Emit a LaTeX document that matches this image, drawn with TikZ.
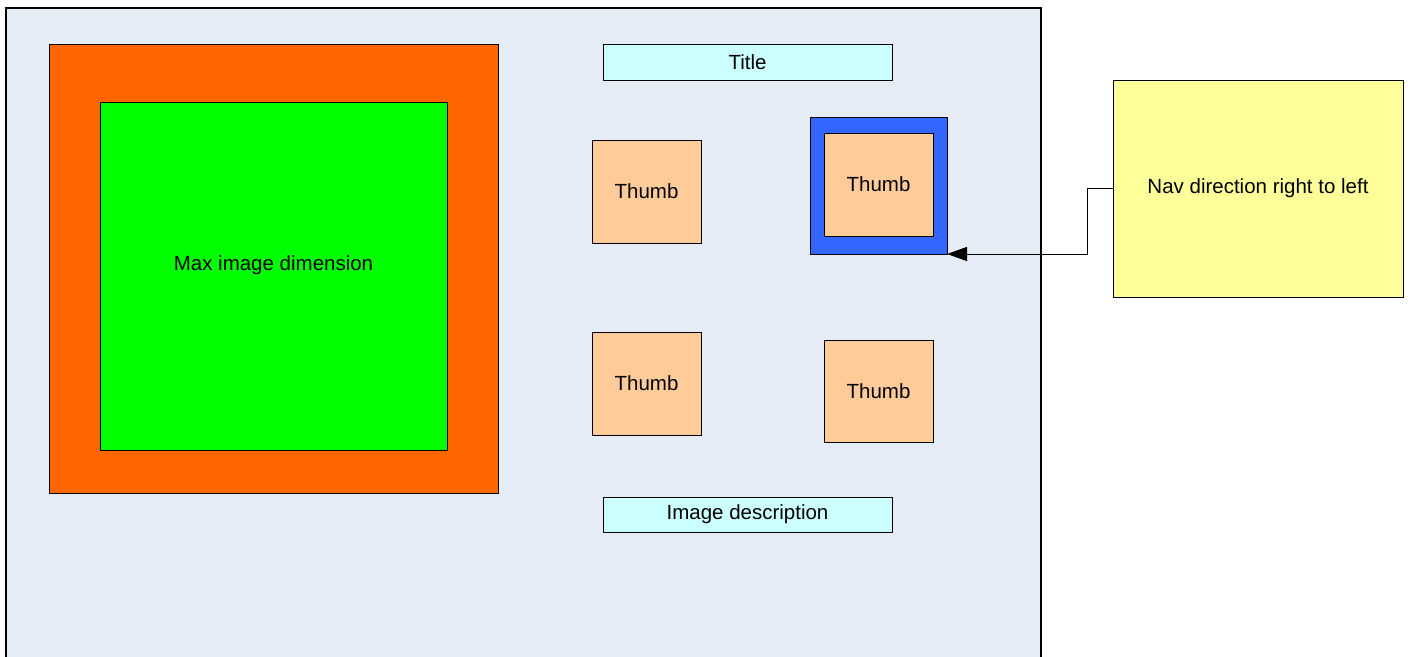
\documentclass[tikz,border=0pt]{standalone}
\usepackage{fontspec}
\setmainfont{Liberation Sans}
\usetikzlibrary{arrows.meta}
\definecolor{bgblue}{HTML}{E6ECF6}
\definecolor{orangebox}{HTML}{FF6600}
\definecolor{greenbox}{HTML}{00FF00}
\definecolor{cyanbox}{HTML}{CCFFFF}
\definecolor{peach}{HTML}{FFCC99}
\definecolor{bluebox}{HTML}{3366FF}
\definecolor{yellowbox}{HTML}{FFFF99}
\tikzset{
  txt/.style={font=\fontsize{20.5}{24}\selectfont},
  box/.style={draw=black, line width=1pt, inner sep=0pt, outer sep=0pt, anchor=north west,
    txt, align=center},
}
\begin{document}
\begin{tikzpicture}[x=1pt,y=-1pt]
\useasboundingbox (0,0) rectangle (1408,656);
\fill[bgblue] (6,8) rectangle (1041,660);
\draw[line width=1.2pt] (6,660) -- (6,8) -- (1041,8) -- (1041,660);
\node[box, fill=orangebox, minimum width=449pt, minimum height=449pt] (outer) at (49,44) {};
\node[box, fill=greenbox, minimum width=347pt, minimum height=348pt] (maximg) at (100,102) {};
\node[txt] (maxlabel) at ([yshift=11pt]maximg.center) {Max image dimension};
\node[box, fill=cyanbox, minimum width=289pt, minimum height=36pt] (title) at (603,44) {Title};
\node[box, fill=peach, minimum width=109pt, minimum height=103pt] (t1) at (592,140) {Thumb};
\node[box, fill=bluebox, minimum width=137pt, minimum height=137pt] (sel) at (810,117) {};
\node[box, fill=peach, minimum width=109pt, minimum height=103pt] (t2) at (824,133) {Thumb};
\node[box, fill=peach, minimum width=109pt, minimum height=103pt] (t3) at (592,332) {Thumb};
\node[box, fill=peach, minimum width=109pt, minimum height=102pt] (t4) at (824,340) {Thumb};
\node[box, fill=cyanbox, minimum width=289pt, minimum height=35pt] (desc) at (603,497) {Image description};
\node[box, fill=yellowbox, minimum width=290pt, minimum height=217pt] (nav) at (1113,80) {Nav direction right to left};
\draw[line width=1pt, -{Triangle[length=20pt,width=14pt]}] (nav.west) -- ++(-26,0) |- (sel.south east);
\end{tikzpicture}
\end{document}
